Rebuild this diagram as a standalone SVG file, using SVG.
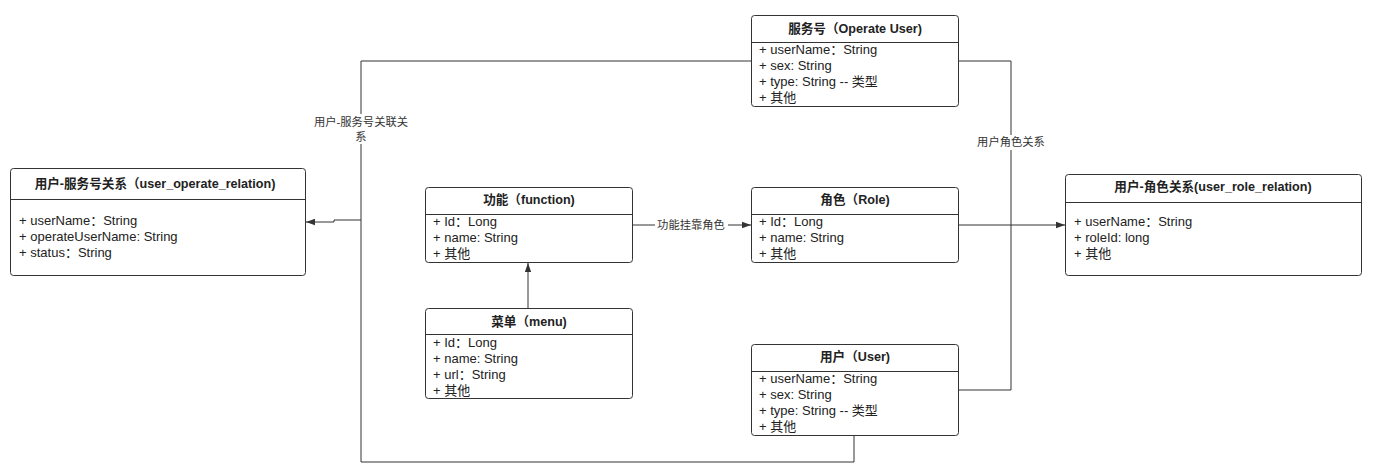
<svg xmlns="http://www.w3.org/2000/svg" width="1374" height="472" viewBox="0 0 1374 472">
<style>
.box{fill:#fff;stroke:#333;stroke-width:1}
.div{stroke:#333;stroke-width:1}
.t{font-family:"Liberation Sans","Noto Sans CJK SC",sans-serif;font-size:12.6px;font-weight:bold;fill:#222;text-anchor:middle}
.r{font-family:"Liberation Sans","Noto Sans CJK SC",sans-serif;font-size:13px;fill:#222}
.lbl{font-family:"Liberation Sans","Noto Sans CJK SC",sans-serif;font-size:11.3px;fill:#333;text-anchor:middle}
.c{fill:none;stroke:#333;stroke-width:1}
</style>
<defs>
<marker id="arr" viewBox="0 0 10 10" refX="10" refY="5" markerWidth="9" markerHeight="9" markerUnits="userSpaceOnUse" orient="auto">
<path d="M0,1.5 L10,5 L0,8.5 Z" fill="#333"/>
</marker>
</defs>
<g id="connectors">
<path class="c" d="M751,61 H361 V220 H334 V222 H306" marker-end="url(#arr)"/>
<path class="c" d="M854,435 V462 H361 V220"/>
<path class="c" d="M632,225 H751" marker-end="url(#arr)"/>
<path class="c" d="M528,308 V263" marker-end="url(#arr)"/>
<path class="c" d="M958,225 H1065" marker-end="url(#arr)"/>
<path class="c" d="M958,61 H1011 V390 H958"/>
<rect x="305" y="114" width="114" height="30" fill="#fff"/>
<text class="lbl" x="361" y="126">用户-服务号关联关</text>
<text class="lbl" x="361" y="141">系</text>
<rect x="975" y="135" width="72" height="15" fill="#fff"/>
<text class="lbl" x="1011" y="146">用户角色关系</text>
<rect x="655" y="218" width="73" height="15" fill="#fff"/>
<text class="lbl" x="691" y="229">功能挂靠角色</text>
</g>
<g id="operate-user">
<rect class="box" x="751.5" y="15.5" width="207" height="91" rx="3"/>
<line class="div" x1="751.5" y1="42.5" x2="958.5" y2="42.5"/>
<text class="t" x="855" y="33">服务号（Operate User)</text>
<text class="r" x="759" y="54">+ userName：String</text>
<text class="r" x="759" y="70">+ sex: String</text>
<text class="r" x="759" y="86">+ type: String -- 类型</text>
<text class="r" x="759" y="102">+ 其他</text>
</g>
<g id="user-operate-relation">
<rect class="box" x="10.5" y="168.5" width="295" height="107" rx="3"/>
<line class="div" x1="10.5" y1="199.5" x2="305.5" y2="199.5"/>
<text class="t" x="155" y="188">用户-服务号关系（user_operate_relation)</text>
<text class="r" x="19" y="225">+ userName：String</text>
<text class="r" x="19" y="241">+ operateUserName: String</text>
<text class="r" x="19" y="257">+ status：String</text>
</g>
<g id="function">
<rect class="box" x="425.5" y="187.5" width="207" height="75" rx="3"/>
<line class="div" x1="425.5" y1="214.5" x2="632.5" y2="214.5"/>
<text class="t" x="529" y="204">功能（function)</text>
<text class="r" x="433" y="226">+ Id：Long</text>
<text class="r" x="433" y="242">+ name: String</text>
<text class="r" x="433" y="258">+ 其他</text>
</g>
<g id="menu">
<rect class="box" x="425.5" y="308.5" width="207" height="90" rx="3"/>
<line class="div" x1="425.5" y1="334.5" x2="632.5" y2="334.5"/>
<text class="t" x="529" y="326">菜单（menu)</text>
<text class="r" x="433" y="347">+ Id：Long</text>
<text class="r" x="433" y="363">+ name: String</text>
<text class="r" x="433" y="379">+ url：String</text>
<text class="r" x="433" y="395">+ 其他</text>
</g>
<g id="role">
<rect class="box" x="751.5" y="187.5" width="207" height="75" rx="3"/>
<line class="div" x1="751.5" y1="214.5" x2="958.5" y2="214.5"/>
<text class="t" x="855" y="204">角色（Role)</text>
<text class="r" x="759" y="226">+ Id：Long</text>
<text class="r" x="759" y="242">+ name: String</text>
<text class="r" x="759" y="258">+ 其他</text>
</g>
<g id="user-role-relation">
<rect class="box" x="1065.5" y="174.5" width="296" height="101" rx="3"/>
<line class="div" x1="1065.5" y1="202.5" x2="1361.5" y2="202.5"/>
<text class="t" x="1213" y="191">用户-角色关系(user_role_relation)</text>
<text class="r" x="1074" y="226">+ userName：String</text>
<text class="r" x="1074" y="242">+ roleId: long</text>
<text class="r" x="1074" y="258">+ 其他</text>
</g>
<g id="user">
<rect class="box" x="751.5" y="344.5" width="207" height="91" rx="3"/>
<line class="div" x1="751.5" y1="371.5" x2="958.5" y2="371.5"/>
<text class="t" x="855" y="361">用户（User)</text>
<text class="r" x="759" y="383">+ userName：String</text>
<text class="r" x="759" y="399">+ sex: String</text>
<text class="r" x="759" y="415">+ type: String -- 类型</text>
<text class="r" x="759" y="431">+ 其他</text>
</g>
</svg>
